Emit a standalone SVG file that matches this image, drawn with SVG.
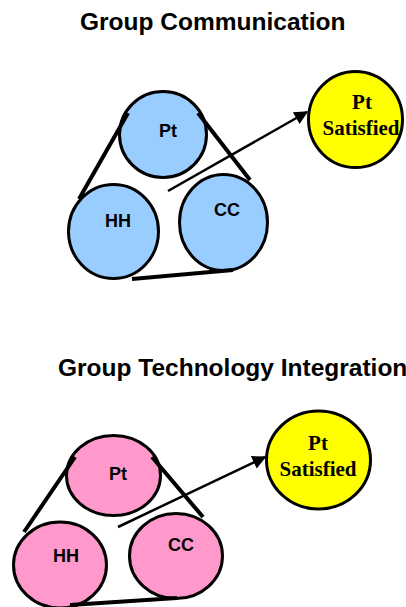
<svg xmlns="http://www.w3.org/2000/svg" width="406" height="607" viewBox="0 0 406 607">
<defs>
<style>
.title{font-family:"Liberation Sans",Arial,sans-serif;font-weight:bold;font-size:24.5px;fill:#000}
.lbl{font-family:"Liberation Sans",Arial,sans-serif;font-weight:bold;font-size:18px;fill:#000;text-anchor:middle}
.sat{font-family:"Liberation Serif","Times New Roman",serif;font-weight:bold;font-size:21px;fill:#000;text-anchor:middle}
.blue{fill:#99ccff;stroke:#000;stroke-width:3}
.pink{fill:#ff99cc;stroke:#000;stroke-width:3}
.yel{fill:#ffff00;stroke:#000;stroke-width:3}
.belt{stroke:#000;stroke-width:4;fill:none;stroke-linecap:butt}
.arrow{stroke:#000;stroke-width:2.5;fill:none;marker-end:url(#ah)}
</style>
<marker id="ah" viewBox="0 0 10 10" refX="9" refY="5" markerWidth="7" markerHeight="5.5" markerUnits="strokeWidth" orient="auto">
<path d="M0,0 L10,5 L0,10 z" fill="#000"/>
</marker>
</defs>
<text class="title" x="80" y="30">Group Communication</text>
<text class="title" x="58" y="376">Group Technology Integration</text>

<g id="top-pt"><ellipse class="blue" cx="163" cy="134.5" rx="43.5" ry="43"/><text class="lbl" x="168" y="137">Pt</text></g>
<g id="top-hh"><ellipse class="blue" cx="113.5" cy="231.5" rx="45" ry="47"/><text class="lbl" x="118" y="227">HH</text></g>
<g id="top-cc"><ellipse class="blue" cx="223.5" cy="222.5" rx="44" ry="48"/><text class="lbl" x="227" y="216">CC</text></g>
<g id="top-sat"><ellipse class="yel" cx="355.5" cy="119.5" rx="47" ry="48"/><text class="sat" x="362" y="109">Pt</text><text class="sat" x="361" y="135">Satisfied</text></g>

<g id="bot-pt"><ellipse class="pink" cx="113.5" cy="475.5" rx="47" ry="40"/><text class="lbl" x="118" y="480">Pt</text></g>
<g id="bot-hh"><ellipse class="pink" cx="60" cy="565" rx="46.5" ry="43"/><text class="lbl" x="66" y="562">HH</text></g>
<g id="bot-cc"><ellipse class="pink" cx="176" cy="556" rx="46.5" ry="42.5"/><text class="lbl" x="181" y="551">CC</text></g>
<g id="bot-sat"><ellipse class="yel" cx="318.5" cy="460" rx="52" ry="49"/><text class="sat" x="318" y="450">Pt</text><text class="sat" x="318" y="476">Satisfied</text></g>

<g id="connectors">
<line class="belt" x1="128" y1="113" x2="79" y2="199"/>
<line class="belt" x1="198" y1="113" x2="250" y2="180"/>
<line class="belt" x1="132" y1="279" x2="233" y2="270"/>
<line class="arrow" x1="168" y1="191" x2="307" y2="112"/>
<line class="belt" x1="75" y1="457" x2="24" y2="532"/>
<line class="belt" x1="152" y1="457" x2="203" y2="517"/>
<line class="belt" x1="70" y1="605" x2="177" y2="598"/>
<line class="arrow" x1="118" y1="527" x2="265" y2="457"/>
</g>
</svg>
